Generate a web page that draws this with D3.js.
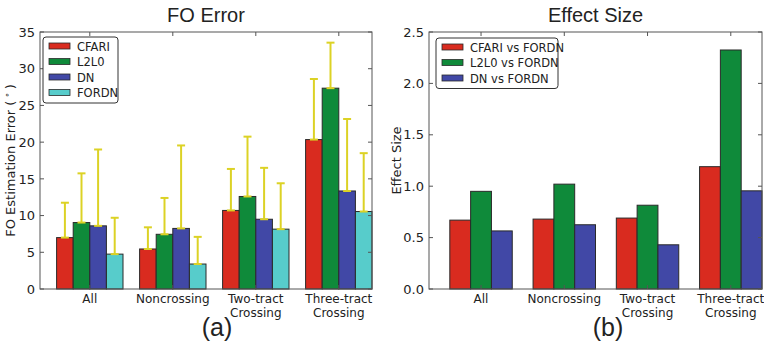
<!DOCTYPE html>
<html>
<head>
<meta charset="utf-8">
<script src="https://cdn.jsdelivr.net/npm/d3@7"></script>
<style>
  body { margin: 0; background: #fff; }
  svg { display: block; }
  text { font-family: "DejaVu Sans", sans-serif; fill: #222; }
  .title, .sub { font-family: "Liberation Sans", Arial, sans-serif; }
</style>
</head>
<body>
<svg id="chart" width="764" height="342"></svg>
<script>
// categories and series
const categories = ["All", "Noncrossing", "Two-tract\nCrossing", "Three-tract\nCrossing"];
const foSeries = ["CFARI", "L2L0", "DN", "FORDN"];
const effectSeries = ["CFARI vs FORDN", "L2L0 vs FORDN", "DN vs FORDN"];
const colors = ["#d92b1f", "#0f8a3a", "#4148a6", "#57cccb"];

// FO estimation error (degrees), mean and upper std
const cfariErr = [7.0, 5.45, 10.7, 20.35];
const l2l0Err = [9.05, 7.45, 12.6, 27.35];
const dnErr = [8.6, 8.25, 9.5, 13.35];
const fordnErr = [4.75, 3.4, 8.15, 10.55];
const cfariStd = [4.75, 2.95, 5.65, 8.25];
const l2l0Std = [6.7, 4.95, 8.15, 6.2];
const dnStd = [10.4, 11.3, 7.0, 9.8];
const fordnStd = [4.95, 3.7, 6.25, 7.95];

// effect sizes
const cfariVsFordn = [0.67, 0.68, 0.69, 1.19];
const l2l0VsFordn = [0.95, 1.02, 0.815, 2.325];
const dnVsFordn = [0.565, 0.625, 0.43, 0.955];

const foTicks = [0, 5, 10, 15, 20, 25, 30, 35];
const effectTicks = [0, 0.5, 1.0, 1.5, 2.0, 2.5];

const svg = d3.select('#chart');

function drawPanel(o) {
  const g = svg.append('g');
  const x = d3.scaleBand()
    .domain(categories)
    .range([o.left, o.right])
    .paddingInner(o.pad)
    .paddingOuter(o.pad / 2)
    .align(1);
  const xs = d3.scaleBand()
    .domain(d3.range(o.series.length))
    .range([0, x.bandwidth()]);
  const y = d3.scaleLinear().domain(o.yDomain).range([o.bottom, o.top]);

  // bars
  o.values.forEach((vals, s) => {
    g.selectAll(null)
      .data(vals)
      .enter()
      .append('rect')
      .attr('x', (d, i) => x(categories[i]) + xs(s))
      .attr('y', d => y(d))
      .attr('width', xs.bandwidth())
      .attr('height', d => o.bottom - y(d))
      .attr('fill', colors[s])
      .attr('stroke', '#2a2a2a')
      .attr('stroke-width', 1);
  });

  // upper error bars
  if (o.errors) {
    o.errors.forEach((errs, s) => {
      errs.forEach((e, i) => {
        const cx = x(categories[i]) + xs(s) + xs.bandwidth() / 2;
        const v = o.values[s][i];
        g.append('line')
          .attr('x1', cx).attr('x2', cx)
          .attr('y1', y(v)).attr('y2', y(v + e))
          .attr('stroke', '#dcd225').attr('stroke-width', 2);
        [v, v + e].forEach(t => {
          g.append('line')
            .attr('x1', cx - 4).attr('x2', cx + 4)
            .attr('y1', y(t)).attr('y2', y(t))
            .attr('stroke', '#dcd225').attr('stroke-width', 2);
        });
      });
    });
  }

  // frame
  g.append('rect')
    .attr('x', o.left).attr('y', o.top)
    .attr('width', o.right - o.left).attr('height', o.bottom - o.top)
    .attr('fill', 'none').attr('stroke', '#555').attr('stroke-width', 1);

  // y axis (left labels, ticks inward on both sides)
  const yAxis = g.append('g')
    .attr('transform', `translate(${o.left},0)`)
    .call(d3.axisLeft(y).tickValues(o.yTicks).tickFormat(o.fmt).tickSize(0).tickPadding(5));
  yAxis.select('.domain').remove();
  yAxis.selectAll('text').style('font-size', '13px').style('fill', '#222');
  o.yTicks.forEach(t => {
    g.append('line').attr('x1', o.left).attr('x2', o.left + 4)
      .attr('y1', y(t)).attr('y2', y(t)).attr('stroke', '#555');
    g.append('line').attr('x1', o.right - 4).attr('x2', o.right)
      .attr('y1', y(t)).attr('y2', y(t)).attr('stroke', '#555');
  });

  // x ticks on top and bottom
  categories.forEach(c => {
    const cx = x(c) + x.bandwidth() / 2;
    g.append('line').attr('x1', cx).attr('x2', cx)
      .attr('y1', o.top).attr('y2', o.top + 4).attr('stroke', '#555');
    g.append('line').attr('x1', cx).attr('x2', cx)
      .attr('y1', o.bottom - 4).attr('y2', o.bottom).attr('stroke', '#555');
    const lines = c.split('\n');
    const t = g.append('text')
      .attr('text-anchor', 'middle')
      .style('font-size', '12px');
    lines.forEach((l, k) => {
      t.append('tspan').attr('x', cx).attr('y', o.bottom + 14 + k * 14).text(l);
    });
  });

  // y label
  const yl = g.append('text')
    .attr('transform', `translate(${o.ylabelX},${(o.top + o.bottom) / 2}) rotate(-90)`)
    .attr('text-anchor', 'middle')
    .style('font-size', '13px');
  yl.append('tspan').text(o.ylabel);
  if (o.degree) {
    yl.append('tspan').text(' (');
    yl.append('tspan').attr('dy', -5).style('font-size', '9px').text(' ∘ ');
    yl.append('tspan').attr('dy', 5).text(')');
  }

  // title
  g.append('text')
    .attr('class', 'title')
    .attr('x', (o.left + o.right) / 2).attr('y', 22)
    .attr('text-anchor', 'middle')
    .style('font-size', '20px')
    .text(o.title);

  // sub label
  g.append('text')
    .attr('class', 'sub')
    .attr('x', o.subX).attr('y', 336)
    .attr('text-anchor', 'middle')
    .style('font-size', '25px')
    .text(o.sub);

  // legend
  const lg = g.append('g').attr('transform', `translate(${o.legend.x},${o.legend.y})`);
  lg.append('rect')
    .attr('width', o.legend.w).attr('height', o.series.length * 15.5 + 4)
    .attr('rx', 3).attr('fill', '#fff').attr('stroke', '#333').attr('stroke-width', 1);
  o.series.forEach((name, s) => {
    lg.append('rect')
      .attr('x', 6).attr('y', 6 + s * 15.5)
      .attr('width', 21).attr('height', 6)
      .attr('fill', colors[s]).attr('stroke', '#2a2a2a').attr('stroke-width', 0.8);
    lg.append('text')
      .attr('x', 34).attr('y', 13.5 + s * 15.5)
      .style('font-size', '11.5px')
      .text(name);
  });
}

drawPanel({
  left: 40, right: 372, top: 32, bottom: 289,
  pad: 0.2,
  series: foSeries,
  values: [cfariErr, l2l0Err, dnErr, fordnErr],
  errors: [cfariStd, l2l0Std, dnStd, fordnStd],
  yDomain: [0, 35], yTicks: foTicks, fmt: d3.format('d'),
  ylabel: 'FO Estimation Error', degree: true, ylabelX: 15,
  title: 'FO Error', sub: '(a)', subX: 217,
  legend: { x: 43, y: 37, w: 75 }
});

drawPanel({
  left: 429, right: 762, top: 32, bottom: 289,
  pad: 0.25,
  series: effectSeries,
  values: [cfariVsFordn, l2l0VsFordn, dnVsFordn],
  errors: null,
  yDomain: [0, 2.5], yTicks: effectTicks, fmt: d3.format('.1f'),
  ylabel: 'Effect Size', degree: false, ylabelX: 401,
  title: 'Effect Size', sub: '(b)', subX: 608,
  legend: { x: 436, y: 38, w: 122 }
});
</script>
</body>
</html>
